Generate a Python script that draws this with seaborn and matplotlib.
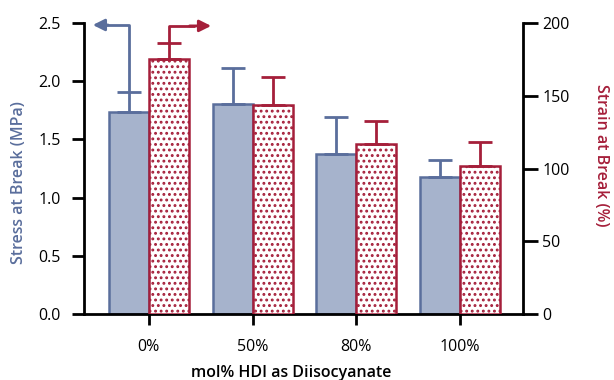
import matplotlib
matplotlib.use("Agg")
import matplotlib.pyplot as plt
import seaborn as sns
import pandas as pd
import numpy as np

categories = ["0%", "50%", "80%", "100%"]
stress = [1.735, 1.80, 1.375, 1.177]        # MPa
stress_err = [0.17, 0.31, 0.32, 0.145]
strain = [175.3, 143.6, 116.8, 101.7]       # %
strain_err = [11.0, 19.3, 15.8, 16.5]

BLUE_FILL = "#a6b3cc"
BLUE_EDGE = "#5a6e9c"
RED = "#a51f3a"

sns.set_style("ticks")
plt.rcParams["font.family"] = ["Open Sans", "DejaVu Sans"]
plt.rcParams["hatch.color"] = RED
plt.rcParams["hatch.linewidth"] = 1.3

hue_order = ["Stress", "Strain"]
df_stress = pd.DataFrame({"cat": categories, "val": stress, "series": "Stress"})
df_strain = pd.DataFrame({"cat": categories, "val": strain, "series": "Strain"})

fig = plt.figure(figsize=(6.14, 3.80), dpi=100)
ax = fig.add_axes([84/614, 66/380, 439/614, 291/380])
ax2 = ax.twinx()

pal = {"Stress": BLUE_FILL, "Strain": "white"}
sns.barplot(data=df_stress, x="cat", y="val", hue="series", hue_order=hue_order,
            order=categories, palette=pal, dodge=True, gap=0,
            width=0.77, ax=ax, legend=False, errorbar=None, saturation=1)
sns.barplot(data=df_strain, x="cat", y="val", hue="series", hue_order=hue_order,
            order=categories, palette=pal, dodge=True, gap=0,
            width=0.77, ax=ax2, legend=False, errorbar=None, saturation=1)

blue_x = []
for p in ax.patches:
    if p.get_height() > 0:
        p.set_edgecolor(BLUE_EDGE)
        p.set_linewidth(1.8)
        blue_x.append(p.get_x() + p.get_width() / 2)
red_x = []
for p in ax2.patches:
    if p.get_height() > 0:
        p.set_edgecolor(RED)
        p.set_linewidth(1.8)
        p.set_hatch("...")
        red_x.append(p.get_x() + p.get_width() / 2)
blue_x = sorted(blue_x)
red_x = sorted(red_x)

ax.errorbar(blue_x, stress, yerr=[np.zeros(4), stress_err], fmt="none",
            ecolor=BLUE_EDGE, elinewidth=2, capsize=8.5, capthick=2, zorder=1)
ax2.errorbar(red_x, strain, yerr=[np.zeros(4), strain_err], fmt="none",
             ecolor=RED, elinewidth=2, capsize=8.5, capthick=2, zorder=1)

ax.set_xlim(-0.625, 3.605)
ax.set_ylim(0, 2.5)
ax2.set_ylim(0, 200)
ax.set_yticks([0, 0.5, 1.0, 1.5, 2.0, 2.5])
ax.set_yticklabels(["0.0", "0.5", "1.0", "1.5", "2.0", "2.5"])
ax2.set_yticks([0, 50, 100, 150, 200])

for a in (ax, ax2):
    a.spines["top"].set_visible(False)
    for s in a.spines.values():
        s.set_linewidth(2)
        s.set_color("black")
    a.tick_params(width=2, labelsize=11.5, colors="black")
ax.spines["right"].set_visible(False)
ax2.spines["left"].set_visible(False)
ax2.spines["bottom"].set_visible(False)
ax.tick_params(axis="y", length=8.5, pad=8)
ax2.tick_params(axis="y", length=11, pad=3)
ax.tick_params(axis="x", length=8, pad=10)

ax.set_xlabel("mol% HDI as Diisocyanate", fontsize=11.5, fontweight="semibold",
              color="black")
ax.xaxis.set_label_coords(0.472, -0.175)
ax.set_ylabel("Stress at Break (MPa)", fontsize=11.5, color=BLUE_EDGE,
              fontweight="semibold")
ax.yaxis.set_label_coords(-0.13, 0.45)
ax2.set_ylabel("Strain at Break (%)", fontsize=11.5, color=RED, rotation=-90,
               fontweight="semibold")
ax2.yaxis.set_label_coords(1.195, 0.546)

# Arrows indicating which axis each series uses
by0 = stress[0] + stress_err[0]
ax.plot([blue_x[0], blue_x[0], blue_x[0] - 0.25], [by0, 2.483, 2.483],
        color=BLUE_EDGE, lw=2, solid_capstyle="butt", clip_on=False)
ax.annotate("", xy=(-0.54, 2.483), xytext=(blue_x[0] - 0.2, 2.483),
            arrowprops=dict(arrowstyle="-|>,head_length=0.7,head_width=0.35",
                            color=BLUE_EDGE, lw=2, shrinkA=0, shrinkB=0),
            annotation_clip=False)
ry0 = strain[0] + strain_err[0]
ax2.plot([red_x[0], red_x[0], red_x[0] + 0.25], [ry0, 198, 198],
         color=RED, lw=2, solid_capstyle="butt", clip_on=False)
ax2.annotate("", xy=(0.6, 198), xytext=(red_x[0] + 0.2, 198),
             arrowprops=dict(arrowstyle="-|>,head_length=0.7,head_width=0.35",
                             color=RED, lw=2, shrinkA=0, shrinkB=0),
             annotation_clip=False)

fig.savefig("out.png", dpi=100)
